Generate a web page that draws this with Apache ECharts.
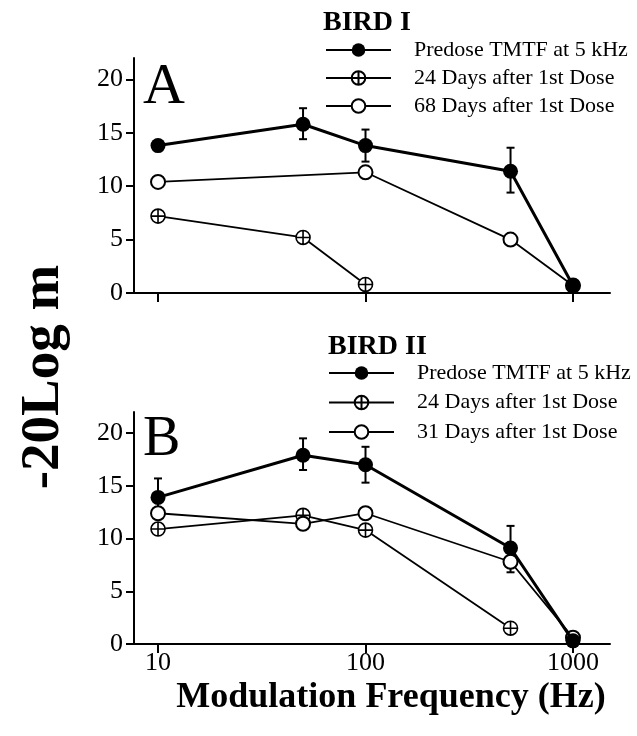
<!DOCTYPE html>
<html>
<head>
<meta charset="utf-8">
<script src="https://cdn.jsdelivr.net/npm/echarts@6/dist/echarts.min.js"></script>
<style>
html, body { margin: 0; padding: 0; background: #fff; }
#chart { width: 637px; height: 736px; }
</style>
</head>
<body>
<div id="chart"></div>
<script>
// modulation frequencies (Hz)
var freqs = [10, 50, 100, 500, 1000];
var freqTicks = [10, 100, 1000];
var yTicks = [0, 5, 10, 15, 20];

// Bird I
var birdIPredose = [13.8, 15.8, 13.8, 11.4, 0.7];
var birdIPredoseLow = [null, 14.4, 12.3, 9.4, null];
var birdIPredoseHigh = [null, 17.3, 15.3, 13.6, null];
var birdIDay24 = [7.2, 5.2, 0.8, null, null];
var birdIDay68 = [10.4, null, 11.3, 5.0, 0.7];

// Bird II
var birdIIPredose = [13.9, 17.9, 17.0, 9.1, 0.3];
var birdIIPredoseLow = [12.1, 16.5, 15.3, 6.8, null];
var birdIIPredoseHigh = [15.7, 19.5, 18.7, 11.2, null];
var birdIIDay24 = [10.9, 12.2, 10.8, 1.5, null];
var birdIIDay31 = [12.4, 11.4, 12.4, 7.8, 0.6];

var nameA = ['Predose TMTF at 5 kHz', '24 Days after 1st Dose', '68 Days after 1st Dose'];
var nameB = ['Predose TMTF at 5 kHz', '24 Days after 1st Dose', '31 Days after 1st Dose'];

var serif = 'Liberation Serif';
var crossCircle = 'path://M-10,0A10,10,0,1,1,10,0A10,10,0,1,1,-10,0ZM-10,0H10M0,-10V10';

function pairs(ys) {
	var out = [];
	for (var i = 0; i < freqs.length; i++) {
		out.push([freqs[i], ys[i]]);
	}
	return out;
}
function bars(lo, hi) {
	var out = [];
	for (var i = 0; i < freqs.length; i++) {
		if (lo[i] != null) out.push([freqs[i], lo[i], hi[i]]);
	}
	return out;
}

function xAxis(idx, showLabels) {
	return {
		type: 'log',
		gridIndex: idx,
		min: 7.66,
		max: 1508,
		axisLine: { lineStyle: { color: '#000', width: 2 } },
		axisTick: { show: true, inside: false, length: 9, lineStyle: { color: '#000', width: 2 }, customValues: freqTicks },
		axisLabel: {
			show: showLabels, customValues: freqTicks, color: '#000', fontFamily: serif, fontSize: 26, margin: 6,
			formatter: function (v) { return String(Math.round(v)); }
		},
		splitLine: { show: false },
		minorTick: { show: false }
	};
}
function yAxis(idx) {
	return {
		type: 'value',
		gridIndex: idx,
		min: 0,
		max: 22,
		axisLine: { show: true, lineStyle: { color: '#000', width: 2 } },
		axisTick: { show: true, inside: false, length: 8, lineStyle: { color: '#000', width: 2 }, customValues: yTicks },
		axisLabel: { customValues: yTicks, color: '#000', fontFamily: serif, fontSize: 26, margin: 11 },
		splitLine: { show: false }
	};
}

function predose(name, idx, ys) {
	return {
		name: name, type: 'line', xAxisIndex: idx, yAxisIndex: idx, z: 5,
		data: pairs(ys), symbol: 'circle', symbolSize: 15,
		itemStyle: { color: '#000' },
		lineStyle: { color: '#000', width: 3 }
	};
}
function crossed(name, idx, ys) {
	return {
		name: name, type: 'line', xAxisIndex: idx, yAxisIndex: idx, z: 3,
		data: pairs(ys), symbol: crossCircle, symbolSize: 14,
		itemStyle: { color: '#fff', borderColor: '#000', borderWidth: 1.6 },
		lineStyle: { color: '#000', width: 1.8 }
	};
}
function open(name, idx, ys) {
	return {
		name: name, type: 'line', xAxisIndex: idx, yAxisIndex: idx, z: 4,
		data: pairs(ys), connectNulls: true, symbol: 'emptyCircle', symbolSize: 14,
		itemStyle: { color: '#000', borderColor: '#000', borderWidth: 1.6 },
		lineStyle: { color: '#000', width: 1.8 }
	};
}
function errorBars(idx, lo, hi) {
	return {
		type: 'custom', xAxisIndex: idx, yAxisIndex: idx, z: 2,
		data: bars(lo, hi),
		encode: { x: 0, y: [1, 2] },
		renderItem: function (params, api) {
			var a = api.coord([api.value(0), api.value(1)]);
			var b = api.coord([api.value(0), api.value(2)]);
			var w = 4;
			var st = { stroke: '#000', lineWidth: 2 };
			return {
				type: 'group',
				children: [
					{ type: 'line', shape: { x1: a[0], y1: a[1], x2: b[0], y2: b[1] }, style: st },
					{ type: 'line', shape: { x1: a[0] - w, y1: a[1], x2: a[0] + w, y2: a[1] }, style: st },
					{ type: 'line', shape: { x1: b[0] - w, y1: b[1], x2: b[0] + w, y2: b[1] }, style: st }
				]
			};
		}
	};
}

function legend(names, left, top, gap) {
	return {
		data: names, orient: 'vertical', left: left, top: top, padding: 0,
		itemWidth: 65, itemHeight: 17, itemGap: gap,
		selectedMode: false,
		textStyle: { color: '#000', fontFamily: serif, fontSize: 22, padding: [0, 0, 0, 18] }
	};
}

var chart = echarts.init(document.getElementById('chart'));
var option = {
	animation: false,
	backgroundColor: '#fff',
	grid: [
		{ left: 134, right: 27, top: 58, height: 235 },
		{ left: 134, right: 27, top: 412, height: 232 }
	],
	xAxis: [xAxis(0, false), xAxis(1, true)],
	yAxis: [yAxis(0), yAxis(1)],
	legend: [legend(nameA, 325, 39, 6), legend(nameB, 328, 362, 7.5)],
	graphic: [
		{ type: 'text', left: 143, top: 59, style: { text: 'A', font: '58px "Liberation Serif"', fill: '#000' } },
		{ type: 'text', left: 143, top: 412, style: { text: 'B', font: '56px "Liberation Serif"', fill: '#000' } },
		{ type: 'text', left: 323, top: 9, style: { text: 'BIRD I', font: 'bold 28px "Liberation Serif"', fill: '#000' } },
		{ type: 'text', left: 328, top: 333, style: { text: 'BIRD II', font: 'bold 28px "Liberation Serif"', fill: '#000' } },
		{ type: 'text', x: 44, y: 377, rotation: Math.PI / 2,
			style: { text: '-20Log m', font: 'bold 55px "Liberation Serif"', fill: '#000', align: 'center', verticalAlign: 'middle' } },
		{ type: 'text', x: 391, y: 698,
			style: { text: 'Modulation Frequency (Hz)', font: 'bold 36px "Liberation Serif"', fill: '#000', align: 'center', verticalAlign: 'middle' } }
	],
	series: [
		errorBars(0, birdIPredoseLow, birdIPredoseHigh),
		crossed(nameA[1], 0, birdIDay24),
		open(nameA[2], 0, birdIDay68),
		predose(nameA[0], 0, birdIPredose),
		errorBars(1, birdIIPredoseLow, birdIIPredoseHigh),
		crossed(nameB[1], 1, birdIIDay24),
		open(nameB[2], 1, birdIIDay31),
		predose(nameB[0], 1, birdIIPredose)
	]
};
chart.setOption(option);
</script>
</body>
</html>
